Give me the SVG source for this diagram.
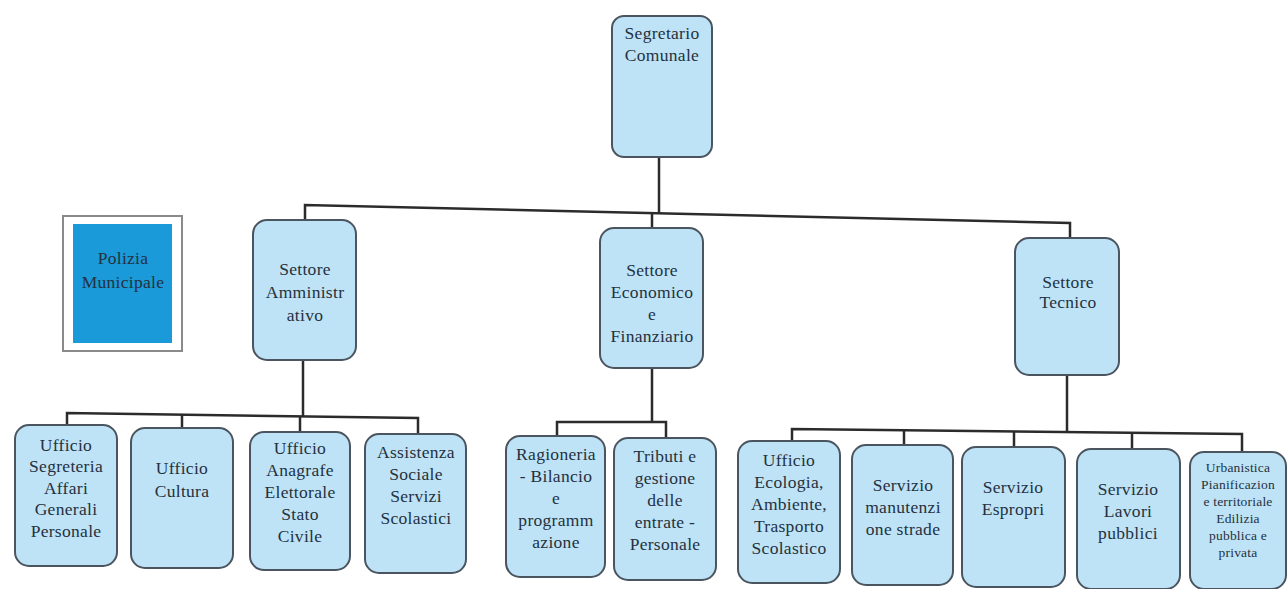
<svg xmlns="http://www.w3.org/2000/svg" width="1288" height="589" viewBox="0 0 1288 589">
<style>
.box{fill:#bfe3f6;stroke:#4a5560;stroke-width:2}
.t{font-family:"Liberation Serif",serif;font-size:17.5px;fill:#24313e;text-anchor:middle;letter-spacing:0.3px}
.s{font-size:13.5px;letter-spacing:0.2px}
.ln{fill:none;stroke:#2b2b2b;stroke-width:2.5}
</style>
<rect width="1288" height="589" fill="#ffffff"/>
<g id="connectors">
<path class="ln" d="M659 157 V213"/>
<path class="ln" d="M305 220 V205 L1070 223 V238"/>
<path class="ln" d="M652 213 V228"/>
<path class="ln" d="M303 360 V416"/>
<path class="ln" d="M67 426 V413 L418 418 V434"/>
<path class="ln" d="M182 414 V428"/>
<path class="ln" d="M300 416 V432"/>
<path class="ln" d="M652 368 V422"/>
<path class="ln" d="M557 436 V422 H666 V438"/>
<path class="ln" d="M1067 375 V431"/>
<path class="ln" d="M792 442 V429 L1242 434 V452"/>
<path class="ln" d="M904 430 V446"/>
<path class="ln" d="M1014 431 V448"/>
<path class="ln" d="M1132 433 V450"/>
</g>
<g id="segretario">
<rect class="box" x="612" y="16" width="100" height="141" rx="12"/>
<text class="t" x="662" y="39">Segretario</text>
<text class="t" x="662" y="61">Comunale</text>
</g>
<g id="polizia">
<rect x="63" y="216" width="119" height="135" fill="#ffffff" stroke="#8a8a8a" stroke-width="2"/>
<rect x="73" y="224" width="99" height="119" fill="#1a9ad8"/>
<text class="t" x="123" y="264">Polizia</text>
<text class="t" x="123" y="288">Municipale</text>
</g>
<g id="amministrativo">
<rect class="box" x="253" y="220" width="103" height="140" rx="14"/>
<text class="t" x="305" y="275">Settore</text>
<text class="t" x="305" y="298">Amministr</text>
<text class="t" x="305" y="321">ativo</text>
</g>
<g id="economico">
<rect class="box" x="600" y="228" width="103" height="140" rx="14"/>
<text class="t" x="652" y="276">Settore</text>
<text class="t" x="652" y="298">Economico</text>
<text class="t" x="652" y="320">e</text>
<text class="t" x="652" y="342">Finanziario</text>
</g>
<g id="tecnico">
<rect class="box" x="1015" y="238" width="104" height="137" rx="14"/>
<text class="t" x="1068" y="288">Settore</text>
<text class="t" x="1068" y="308">Tecnico</text>
</g>
<g id="segreteria">
<rect class="box" x="15" y="425" width="102" height="141" rx="14"/>
<text class="t" x="66" y="451">Ufficio</text>
<text class="t" x="66" y="472">Segreteria</text>
<text class="t" x="66" y="494">Affari</text>
<text class="t" x="66" y="515">Generali</text>
<text class="t" x="66" y="537">Personale</text>
</g>
<g id="cultura">
<rect class="box" x="131" y="428" width="102" height="140" rx="14"/>
<text class="t" x="182" y="474">Ufficio</text>
<text class="t" x="182" y="497">Cultura</text>
</g>
<g id="anagrafe">
<rect class="box" x="250" y="432" width="100" height="138" rx="14"/>
<text class="t" x="300" y="454">Ufficio</text>
<text class="t" x="300" y="476">Anagrafe</text>
<text class="t" x="300" y="498">Elettorale</text>
<text class="t" x="300" y="520">Stato</text>
<text class="t" x="300" y="542">Civile</text>
</g>
<g id="assistenza">
<rect class="box" x="365" y="434" width="101" height="139" rx="14"/>
<text class="t" x="416" y="458">Assistenza</text>
<text class="t" x="416" y="480">Sociale</text>
<text class="t" x="416" y="502">Servizi</text>
<text class="t" x="416" y="524">Scolastici</text>
</g>
<g id="ragioneria">
<rect class="box" x="506" y="436" width="99" height="141" rx="14"/>
<text class="t" x="556" y="460">Ragioneria</text>
<text class="t" x="556" y="482">- Bilancio</text>
<text class="t" x="556" y="504">e</text>
<text class="t" x="556" y="526">programm</text>
<text class="t" x="556" y="548">azione</text>
</g>
<g id="tributi">
<rect class="box" x="614" y="438" width="102" height="142" rx="14"/>
<text class="t" x="665" y="462">Tributi e</text>
<text class="t" x="665" y="484">gestione</text>
<text class="t" x="665" y="506">delle</text>
<text class="t" x="665" y="528">entrate -</text>
<text class="t" x="665" y="550">Personale</text>
</g>
<g id="ecologia">
<rect class="box" x="738" y="441" width="102" height="142" rx="14"/>
<text class="t" x="789" y="466">Ufficio</text>
<text class="t" x="789" y="488">Ecologia,</text>
<text class="t" x="789" y="510">Ambiente,</text>
<text class="t" x="789" y="532">Trasporto</text>
<text class="t" x="789" y="554">Scolastico</text>
</g>
<g id="manutenzione">
<rect class="box" x="852" y="445" width="101" height="140" rx="14"/>
<text class="t" x="903" y="491">Servizio</text>
<text class="t" x="903" y="513">manutenzi</text>
<text class="t" x="903" y="535">one strade</text>
</g>
<g id="espropri">
<rect class="box" x="962" y="447" width="103" height="140" rx="14"/>
<text class="t" x="1013" y="493">Servizio</text>
<text class="t" x="1013" y="515">Espropri</text>
</g>
<g id="lavori">
<rect class="box" x="1077" y="449" width="103" height="140" rx="14"/>
<text class="t" x="1128" y="495">Servizio</text>
<text class="t" x="1128" y="517">Lavori</text>
<text class="t" x="1128" y="539">pubblici</text>
</g>
<g id="urbanistica">
<rect class="box" x="1190" y="452" width="96" height="137" rx="14"/>
<text class="t s" x="1238" y="472">Urbanistica</text>
<text class="t s" x="1238" y="489">Pianificazion</text>
<text class="t s" x="1238" y="506">e territoriale</text>
<text class="t s" x="1238" y="523">Edilizia</text>
<text class="t s" x="1238" y="540">pubblica e</text>
<text class="t s" x="1238" y="557">privata</text>
</g>
</svg>
